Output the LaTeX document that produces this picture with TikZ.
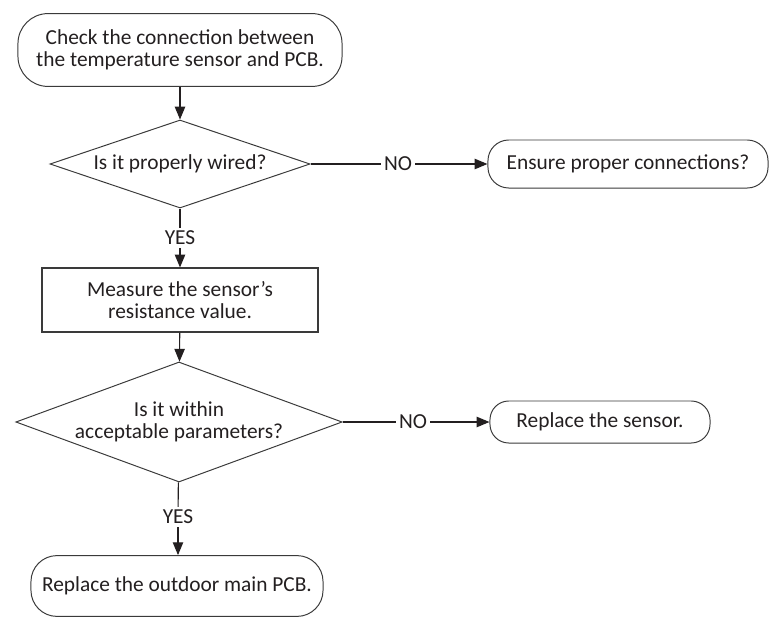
\documentclass[tikz,border=0pt]{standalone}
\usepackage{fontspec}
\setmainfont{Carlito}
\usepackage{xcolor}
\definecolor{ink}{HTML}{231F20}
\definecolor{edge}{HTML}{3A3A3A}
\usepackage{tikz}
\usetikzlibrary{arrows.meta, positioning, shapes.geometric}

\begin{document}
\begin{tikzpicture}[
  x=0.025cm, y=-0.025cm,
  font=\fontsize{15.2}{16}\selectfont, text=ink,
  terminal/.style={
    draw=edge, line width=0.7pt, rounded corners=0.75cm,
    align=center, inner sep=0pt
  },
  process/.style={
    draw=edge, line width=0.8pt, align=center, inner sep=0pt
  },
  decision/.style={
    draw=edge, line width=0.7pt, diamond, aspect=2.9,
    align=center, inner sep=0pt
  },
  lbl/.style={inner sep=2pt},
  arr/.style={-{Triangle[length=3.2mm, width=2.6mm]}, ink, line width=0.8pt},
  link/.style={ink, line width=0.8pt}
]
  \useasboundingbox (0,0) rectangle (772,625);

  % main column
  \node[terminal, minimum width=8.1cm, minimum height=1.82cm] (check) at (180,50)
    {Check the connection between\\the temperature sensor and PCB.};
  \node[decision, minimum width=6.5cm, minimum height=2.2cm] (wired) at (180,164)
    {Is it properly wired?};
  \node[lbl] (yesa) at (180,238) {YES};
  \node[process, minimum width=6.9cm, minimum height=1.6cm] (measure) at (180,300)
    {Measure the sensor’s\\resistance value.};
  \node[decision, minimum width=8.05cm, minimum height=3cm] (range) at (179,422)
    {Is it within\\acceptable parameters?};
  \node[lbl] (yesb) at (178,517) {YES};
  \node[terminal, minimum width=7.3cm, minimum height=1.52cm,
        rounded corners=0.65cm] (pcb) at (177,586)
    {Replace the outdoor main PCB.};

  % NO branches
  \node[lbl] (noa) at (398,164) {NO};
  \node[terminal, minimum width=7cm, minimum height=1.2cm,
        rounded corners=0.52cm] (ensure) at (628,164)
    {Ensure proper connections?};
  \node[lbl] (nob) at (413,422) {NO};
  \node[terminal, minimum width=5.5cm, minimum height=1.05cm,
        rounded corners=0.47cm] (sensor) at (600,422)
    {Replace the sensor.};

  \draw[arr] (check) -- (wired);
  \draw[link] (wired) -- (yesa);
  \draw[arr] (yesa) -- (measure);
  \draw[arr] (measure) -- (range);
  \draw[link] (range) -- (yesb);
  \draw[arr] (yesb) -- (pcb.north -| yesb);

  \draw[link] (wired.east) -- (noa);
  \draw[arr] (noa) -- (ensure);
  \draw[link] (range.east) -- (nob);
  \draw[arr] (nob) -- (sensor);
\end{tikzpicture}
\end{document}
